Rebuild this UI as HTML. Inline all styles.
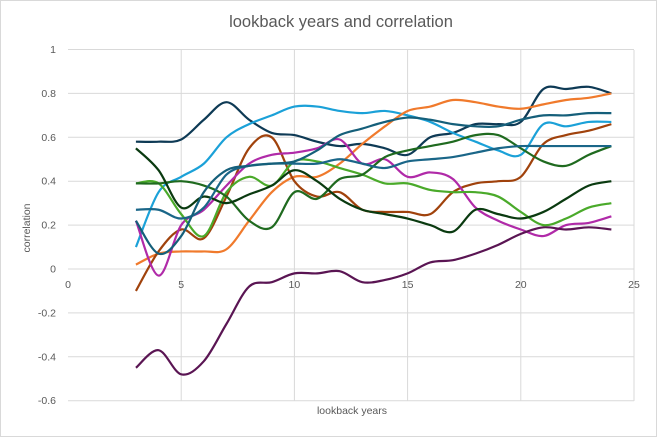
<!DOCTYPE html>
<html><head><meta charset="utf-8"><style>
body{margin:0;background:#fff}
svg{display:block;font-family:"Liberation Sans",sans-serif}
</style></head><body>
<svg id="s" width="657" height="437" viewBox="0 0 657 437">
<rect x="0.5" y="0.5" width="656" height="436" fill="#fff" stroke="#d9d9d9"/>
<text x="341" y="27" text-anchor="middle" font-size="16.5" fill="#595959">lookback years and correlation</text>
<g id="grid" stroke="#d9d9d9" stroke-width="1"></g>
<g id="lab" font-size="10.5" fill="#595959"></g>
<text x="352" y="414" text-anchor="middle" font-size="10.5" fill="#595959">lookback years</text>
<text transform="translate(30,228) rotate(-90)" text-anchor="middle" font-size="10.5" fill="#595959">correlation</text>
<g id="ser" fill="none" stroke-width="2.2"></g>
</svg>
<script>
var X=function(x){return 68+22.64*x},Y=function(y){return 269-219.5*y};
var g=document.getElementById('grid'),l=document.getElementById('lab'),h='';
for(var v=-6;v<=10;v+=2){var y=Y(v/10);h+='<line x1="68" x2="634" y1="'+y+'" y2="'+y+'"/>';}
for(var x=5;x<=25;x+=5){h+='<line x1="'+X(x)+'" x2="'+X(x)+'" y1="50" y2="401"/>';}
g.innerHTML=h;
var t='';
for(var v=-6;v<=10;v+=2){var s=v==0?'0':(v==10?'1':(v/10).toString());t+='<text x="56" y="'+(Y(v/10)+3.5)+'" text-anchor="end">'+s+'</text>';}
for(var x=0;x<=25;x+=5){t+='<text x="'+X(x)+'" y="288" text-anchor="middle">'+x+'</text>';}
l.innerHTML=t;
var S=[
['#0e3a55',[0.58,0.58,0.59,0.68,0.76,0.68,0.62,0.61,0.58,0.56,0.57,0.55,0.52,0.60,0.62,0.66,0.66,0.67,0.82,0.82,0.83,0.80]],
['#1ba1d8',[0.10,0.35,0.42,0.48,0.60,0.66,0.70,0.74,0.74,0.72,0.71,0.72,0.70,0.67,0.62,0.58,0.54,0.52,0.66,0.65,0.67,0.67]],
['#f07a2c',[0.02,0.07,0.08,0.08,0.09,0.22,0.35,0.42,0.42,0.48,0.57,0.65,0.72,0.74,0.77,0.76,0.74,0.73,0.75,0.77,0.78,0.80]],
['#a0420c',[-0.10,0.08,0.18,0.14,0.33,0.55,0.60,0.40,0.33,0.35,0.27,0.26,0.26,0.25,0.35,0.39,0.40,0.42,0.57,0.61,0.63,0.66]],
['#b02aa8',[0.22,-0.03,0.20,0.27,0.38,0.48,0.52,0.53,0.55,0.59,0.48,0.50,0.42,0.44,0.41,0.28,0.22,0.18,0.15,0.20,0.21,0.24]],
['#5a1553',[-0.45,-0.37,-0.48,-0.42,-0.25,-0.08,-0.06,-0.02,-0.02,-0.01,-0.06,-0.05,-0.02,0.03,0.04,0.07,0.11,0.16,0.19,0.18,0.19,0.18]],
['#4aaa2a',[0.39,0.39,0.25,0.15,0.35,0.42,0.38,0.49,0.49,0.46,0.43,0.39,0.39,0.36,0.35,0.35,0.33,0.26,0.20,0.23,0.28,0.30]],
['#1f6a1f',[0.39,0.39,0.40,0.38,0.33,0.22,0.19,0.35,0.32,0.41,0.43,0.51,0.54,0.56,0.58,0.61,0.61,0.55,0.49,0.47,0.52,0.56]],
['#0a3a10',[0.55,0.45,0.28,0.33,0.30,0.34,0.38,0.45,0.40,0.32,0.27,0.25,0.23,0.20,0.17,0.27,0.25,0.23,0.26,0.32,0.38,0.40]],
['#1a6688',[0.27,0.27,0.23,0.28,0.43,0.47,0.48,0.48,0.48,0.50,0.48,0.46,0.49,0.50,0.51,0.53,0.55,0.56,0.56,0.56,0.56,0.56]],
['#155f7a',[0.22,0.07,0.15,0.35,0.45,0.47,0.48,0.49,0.54,0.61,0.64,0.67,0.69,0.68,0.66,0.65,0.65,0.68,0.70,0.70,0.71,0.71]]
];
var o='';
S.forEach(function(s){var p=s[1].map(function(v,i){return[X(i+3),Y(v)]});
var d='M'+p[0][0]+','+p[0][1];
for(var i=0;i<p.length-1;i++){var a=p[i-1]||p[i],b=p[i],c=p[i+1],e=p[i+2]||c;
d+='C'+(b[0]+(c[0]-a[0])/6)+','+(b[1]+(c[1]-a[1])/6)+' '+(c[0]-(e[0]-b[0])/6)+','+(c[1]-(e[1]-b[1])/6)+' '+c[0]+','+c[1];}
o+='<path d="'+d+'" stroke="'+s[0]+'"/>';});
document.getElementById('ser').innerHTML=o;
</script>
</body></html>
